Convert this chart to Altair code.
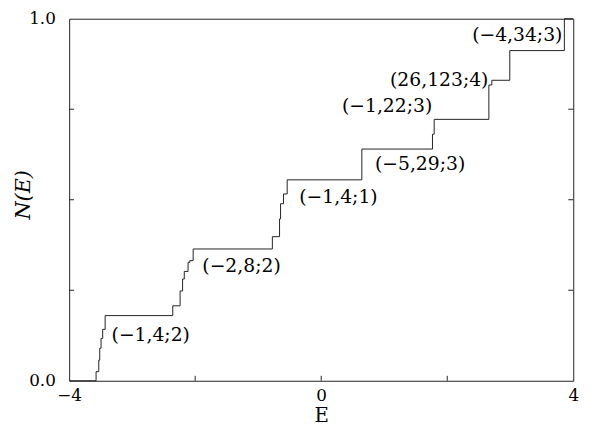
import altair as alt
import pandas as pd

# ---- data ----
E_steps = [-4.0, -3.573, -3.530, -3.515, -3.494, -3.468, -3.429, -2.356, -2.239, -2.200,
           -2.173, -2.113, -2.085, -2.032, -0.775, -0.661, -0.645, -0.598, -0.540, 0.645,
           1.766, 1.793, 2.661, 2.708, 2.993, 3.859, 4.0]
N_steps = [0.0, 0.025, 0.057, 0.090, 0.117, 0.142, 0.180, 0.207, 0.248, 0.281,
           0.302, 0.327, 0.332, 0.364, 0.398, 0.447, 0.489, 0.516, 0.555, 0.640,
           0.681, 0.722, 0.817, 0.830, 0.912, 1.0, 1.0]

left_text = ["(−1,4;2)", "(−2,8;2)", "(−1,4;1)", "(−5,29;3)"]
left_E = [-3.327, -1.886, -0.348, 0.853]
left_N = [0.125, 0.316, 0.508, 0.599]

right_text = ["(−1,22;3)", "(26,123;4)", "(−4,34;3)"]
right_E = [1.762, 2.654, 3.828]
right_N = [0.760, 0.831, 0.956]

x_ticks = [-2, 0, 2]
y_ticks = [0.25, 0.5, 0.75]
x_labels = [-4, 0, 4]
y_labels = [0, 1]

W, H = 511, 367
FONT = "DejaVu Serif"

steps = pd.DataFrame({"E": E_steps, "N": N_steps})
lab_l = pd.DataFrame({"E": left_E, "N": left_N, "t": left_text})
lab_r = pd.DataFrame({"E": right_E, "N": right_N, "t": right_text})
xt = pd.DataFrame({"E": x_ticks})
yt = pd.DataFrame({"N": y_ticks})

xs = alt.Scale(domain=[-4, 4], nice=False, zero=False)
ys = alt.Scale(domain=[0, 1], nice=False, zero=False)

xaxis = alt.Axis(values=x_labels,
                 labelExpr="datum.value == -4 ? '−4' : (datum.value == 0 ? '0' : '4')",
                 ticks=False, domain=False, grid=False, labelFont=FONT, labelFontSize=17,
                 labelColor="black", labelPadding=7, labelFlush=False, labelOverlap=False,
                 title="E", titleFont=FONT, titleFontSize=20, titleFontWeight="normal",
                 titleColor="black", titleBaseline="alphabetic", titleY=41)
yaxis = alt.Axis(values=y_labels,
                 labelExpr="datum.value == 0 ? '0.0' : '1.0'",
                 ticks=False, domain=False, grid=False, labelFont=FONT, labelFontSize=17,
                 labelColor="black", labelPadding=14, labelFlush=False, labelOverlap=False,
                 title="N(E)", titleFont=FONT, titleFontSize=21, titleFontWeight="normal",
                 titleFontStyle="italic", titleColor="black", titleX=-46, titleY=178,
                 titleAlign="center", titleBaseline="middle", titleAngle=270)

X = alt.X("E:Q", scale=xs, axis=xaxis)
Y = alt.Y("N:Q", scale=ys, axis=yaxis)

line = alt.Chart(steps).mark_line(interpolate="step-after", color="#222", strokeWidth=1).encode(
    x=X, y=Y)

tick_b = alt.Chart(xt).mark_rule(color="#222", strokeWidth=1).encode(
    x=X, y=alt.value(H), y2=alt.value(H - 5))
tick_l = alt.Chart(yt).mark_rule(color="#222", strokeWidth=1).encode(
    y=Y, x=alt.value(0), x2=alt.value(5))
tick_r = alt.Chart(yt).mark_rule(color="#222", strokeWidth=1).encode(
    y=Y, x=alt.value(W), x2=alt.value(W - 5))

txt_l = alt.Chart(lab_l).mark_text(align="left", baseline="middle", font=FONT,
                                   fontSize=19, color="black").encode(x=X, y=Y, text="t:N")
txt_r = alt.Chart(lab_r).mark_text(align="right", baseline="middle", font=FONT,
                                   fontSize=19, color="black").encode(x=X, y=Y, text="t:N")

chart = alt.layer(line, tick_b, tick_l, tick_r, txt_l, txt_r).properties(
    width=W, height=H,
    autosize=alt.AutoSizeParams(type="none"),
    padding={"left": 62, "top": 8, "right": 18, "bottom": 44},
    background="white",
).configure_view(stroke="#222", strokeWidth=1)

chart.save("out.html", embed_options={"renderer": "svg", "actions": False})
